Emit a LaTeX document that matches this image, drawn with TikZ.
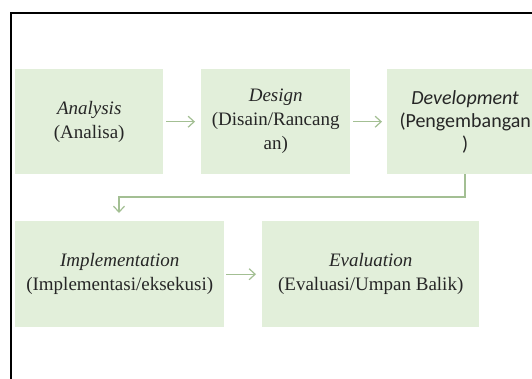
\documentclass[tikz,border=0pt]{standalone}
\usepackage{fontspec}
\setmainfont{Liberation Serif}
\newfontfamily\calfont{Carlito}
\usetikzlibrary{arrows.meta}
\definecolor{boxfill}{HTML}{E2EFDA}
\definecolor{arrcol}{HTML}{A3BF93}
\definecolor{txt}{HTML}{262626}
\tikzset{
  stepbox/.style={fill=boxfill, draw=none, inner sep=0pt, anchor=north west, align=center,
    text=txt, font=\fontsize{19bp}{24bp}\selectfont},
  arr/.style={draw=arrcol, line width=1.2bp, -{Straight Barb[length=6bp,width=11bp,line width=1.2bp]}},
}
\begin{document}
\begin{tikzpicture}[x=1bp,y=-1bp]
\useasboundingbox (0,0) rectangle (532,378);
\clip (0,0) rectangle (532,378);
\fill[white] (0,0) rectangle (532,378);
\draw[line width=2.2bp, line cap=rect] (11,400) -- (11,13) -- (540,13);
\node[stepbox, minimum width=148bp, minimum height=105bp] (b1) at (15,69)
  {\textit{Analysis}\\(Analisa)};
\node[stepbox, minimum width=149bp, minimum height=105bp] (b2) at (201,69)
  {\textit{Design}\\(Disain/Rancang\\an)};
\node[stepbox, minimum width=156bp, minimum height=105bp,
  font=\calfont\fontsize{20bp}{23bp}\selectfont] (b3) at (387,69)
  {\textit{Development}\\(Pengembangan\\)};
\node[stepbox, minimum width=209bp, minimum height=106bp] (b4) at (15,221)
  {\textit{Implementation}\\(Implementasi/eksekusi)};
\node[stepbox, minimum width=217bp, minimum height=106bp] (b5) at (262,221)
  {\textit{Evaluation}\\(Evaluasi/Umpan Balik)};
\coordinate (cx) at (465,0);
\coordinate (k) at (119,197);
\draw[arr, shorten <=3bp, shorten >=6bp] (b1.east) -- (b2.west);
\draw[arr, shorten <=3bp, shorten >=5bp] (b2.east) -- (b3.west);
\draw[arr, shorten <=2bp, shorten >=6bp] (b4.east) -- (b5.west);
\draw[arr, shorten >=8bp] (b3.south -| cx) |- (k) -- (k |- b4.north);
\end{tikzpicture}
\end{document}
